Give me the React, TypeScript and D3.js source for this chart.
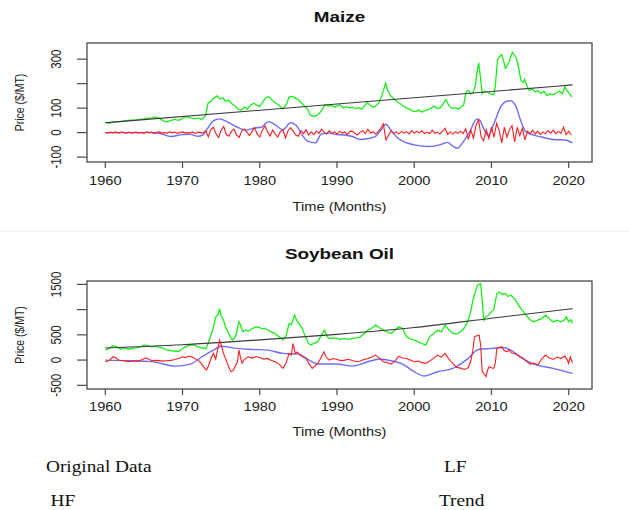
import React from 'react';
import * as d3 from 'd3';

// ---- data ----

const yearTicks = [1960, 1970, 1980, 1990, 2000, 2010, 2020];

const maizeYTicks = [-100, 0, 100, 200, 300];
const maizeYLabels = [-100, 0, 100, 300];
const soyYTicks = [-500, 0, 500, 1000, 1500];
const soyYLabels = [-500, 0, 500, 1500];

const legendLabels = ['Original Data', 'LF', 'HF', 'Trend'];

// Maize ($/MT)
const maizeOriginal: [number, number][] = [
  [1960, 42], [1960.5, 38], [1961, 44], [1962, 46], [1963, 50], [1964, 52], [1965, 56], [1966, 60],
  [1966.5, 64], [1967, 58], [1967.5, 48], [1968, 44], [1968.5, 50], [1969, 54], [1969.5, 50], [1970, 58],
  [1970.5, 66], [1971, 60], [1971.5, 56], [1972, 60], [1972.5, 54], [1973, 70], [1973.3, 120], [1973.7, 128],
  [1974, 140], [1974.5, 150], [1974.8, 138], [1975.2, 142], [1975.6, 128], [1976, 132], [1976.4, 118],
  [1976.8, 110], [1977.2, 96], [1977.6, 92], [1978, 104], [1978.4, 96], [1978.8, 112], [1979.2, 120],
  [1979.6, 112], [1980, 106], [1980.4, 126], [1980.8, 144], [1981.2, 146], [1981.6, 132], [1982, 122],
  [1982.5, 112], [1983, 96], [1983.5, 118], [1983.8, 146], [1984.2, 148], [1984.6, 142], [1985, 134],
  [1985.4, 122], [1985.8, 108], [1986.2, 96], [1986.5, 72], [1987, 66], [1987.4, 70], [1987.8, 82],
  [1988.2, 100], [1988.5, 115], [1988.9, 108], [1989.3, 112], [1989.7, 104], [1990, 108], [1990.4, 114],
  [1990.8, 102], [1991.2, 106], [1991.6, 100], [1992, 104], [1992.4, 98], [1992.8, 102], [1993.2, 96],
  [1993.6, 110], [1993.9, 124], [1994.3, 112], [1994.7, 104], [1995, 108], [1995.4, 120], [1995.8, 150],
  [1996.3, 202], [1996.6, 170], [1997, 148], [1997.4, 138], [1997.8, 126], [1998.2, 118], [1998.6, 108],
  [1999, 100], [1999.4, 96], [1999.8, 88], [2000.2, 86], [2000.6, 92], [2001, 84], [2001.4, 90],
  [2001.8, 94], [2002.2, 100], [2002.6, 108], [2003, 98], [2003.4, 102], [2003.8, 120], [2004.1, 134],
  [2004.5, 110], [2004.9, 98], [2005.3, 102], [2005.7, 96], [2006, 104], [2006.4, 112], [2006.7, 165],
  [2007, 172], [2007.3, 158], [2007.6, 162], [2007.9, 190], [2008.2, 260], [2008.35, 285], [2008.6, 220],
  [2008.8, 160], [2009.1, 170], [2009.5, 165], [2009.9, 158], [2010.3, 155], [2010.5, 190], [2010.8, 300],
  [2011.1, 312], [2011.3, 318], [2011.6, 290], [2011.8, 262], [2012.1, 275], [2012.4, 300], [2012.7, 328],
  [2012.9, 320], [2013.2, 305], [2013.5, 270], [2013.8, 215], [2014.1, 205], [2014.3, 218], [2014.6, 190],
  [2014.9, 172], [2015.3, 178], [2015.7, 166], [2016, 172], [2016.4, 160], [2016.8, 168], [2017.2, 152],
  [2017.6, 158], [2018, 154], [2018.4, 162], [2018.8, 170], [2019.2, 158], [2019.5, 188], [2019.8, 170],
  [2020.1, 160], [2020.4, 145],
];

const maizeLF: [number, number][] = [
  [1960, 0], [1963, 0], [1966, 0], [1967, -3], [1968.5, -16], [1970, -8], [1971, -7], [1972, -15],
  [1972.6, -10], [1973.2, 15], [1974, 48], [1974.8, 56], [1975.8, 44], [1977, 24], [1978.2, 10],
  [1979.2, 18], [1980.2, 22], [1981.1, 45], [1982, 32], [1983, 12], [1984, 40], [1984.7, 30],
  [1985.5, -10], [1986.2, -35], [1987.2, -42], [1988, -5], [1989, -2], [1990, -8], [1991, -10],
  [1992, -16], [1993, -28], [1994, -24], [1995, -15], [1995.8, 15], [1996.3, 34], [1997, 10],
  [1997.8, -20], [1998.7, -38], [2000, -50], [2002, -57], [2003.5, -48], [2004.3, -40], [2005, -55],
  [2005.6, -64], [2006.3, -40], [2007.2, 5], [2008.1, 55], [2008.5, 50], [2009, 15], [2009.6, -12],
  [2010.3, 35], [2011.2, 105], [2012, 128], [2012.5, 130], [2013.2, 105], [2013.8, 48], [2014.4, 5],
  [2015.5, -10], [2016.5, -18], [2018, -28], [2019.5, -30], [2020.5, -42],
];

// high-frequency part, one value every 4 months from Jan 1960
const maizeHFStart = 1960;
const maizeHFStep = 1 / 3;
const maizeHF = [
  0, -2, 2, -1, 3, -2, 1, 2, -3, 2, -1, 0, 2, -2, 1, -3, 3, 0, 2, -4, 1, 3, -2, 0, -3, 4, -1, 2, -3, 1,
  3, -2, 0, -1, 3, -4, 2, 0, -2,
  8, -18, 12, 22, -5, -20, 10, 25, -8, -15, 5, 14, -10, -20, 6, 15, 2, -12, 5, 20, -6,
  -18, 10, 28, 4, -14, 10, -6, -18, 4, 12, -22, 8, 20, 6, -10, -15, 8, -4, 12, -10, 3,
  -8, 6, -3, 14, 2, -6, 8, -4, 4, -6, 6, -2, 3, -8, 5, 6, -4, -10, 2, 8, -4,
  14, -2, 3, -6, 4, 18, 36, -30, -12, 8, -4, 4, -6, 5, -2, 4, -5, 8, -3, 6, -2,
  8, -4, 2, -4, 10, -3, 2, -6, 6, 18, -8, 3, -6, 4, -3, 6, -4, 16, -28, 10, -22,
  30, 52, -18, -32, 12, -24, 22, -18, 38, 8, -42, 22, -18, 12, 28, -38, 22, -12, 18, -30, 6,
  -4, 10, -6, 6, -8, 3, -5, 8, -2, 10, -4, 5, -3, 22, -8, 6, -10,
];

const maizeTrend: [number, number][] = [[1960, 40], [1990, 117], [2020.5, 195]];

// Soybean oil ($/MT)
const soyOriginal: [number, number][] = [
  [1960, 200], [1960.5, 230], [1961, 290], [1961.5, 260], [1962, 220], [1962.5, 240], [1963, 215],
  [1963.5, 230], [1964, 240], [1964.5, 260], [1965, 300], [1965.5, 280], [1966, 262], [1966.5, 270],
  [1967, 255], [1967.5, 230], [1968, 200], [1968.5, 185], [1969, 180], [1969.5, 170], [1970, 230],
  [1970.5, 270], [1971, 295], [1971.5, 300], [1972, 262], [1972.5, 240], [1973, 225], [1973.3, 330],
  [1973.6, 460], [1974, 650], [1974.3, 850], [1974.6, 900], [1974.8, 1020], [1975, 880], [1975.3, 790],
  [1975.6, 640], [1975.8, 590], [1976.2, 450], [1976.5, 395], [1976.9, 480], [1977.3, 760], [1977.5, 700],
  [1977.8, 560], [1978.2, 600], [1978.5, 570], [1979, 620], [1979.5, 660], [1979.9, 650], [1980.3, 620],
  [1980.7, 630], [1981.1, 590], [1981.5, 560], [1982, 520], [1982.5, 460], [1983, 400], [1983.4, 480],
  [1983.8, 725], [1984.1, 700], [1984.5, 890], [1984.8, 780], [1985.1, 725], [1985.5, 626], [1985.9, 470],
  [1986.3, 330], [1986.6, 300], [1987, 330], [1987.5, 360], [1988, 500], [1988.4, 593], [1988.7, 470],
  [1989, 428], [1989.5, 440], [1990, 428], [1990.5, 410], [1991, 430], [1991.5, 410], [1992, 428],
  [1992.5, 440], [1993, 461], [1993.5, 520], [1994, 593], [1994.5, 630], [1995, 692], [1995.5, 640],
  [1996, 593], [1996.5, 560], [1997, 527], [1997.5, 590], [1998, 659], [1998.5, 626], [1999, 461],
  [1999.5, 420], [2000, 395], [2000.5, 360], [2001, 329], [2001.5, 296], [2002, 461], [2002.5, 520],
  [2003, 593], [2003.5, 560], [2004, 692], [2004.5, 600], [2005, 527], [2005.5, 520], [2006, 560],
  [2006.5, 640], [2007, 790], [2007.3, 950], [2007.6, 1186], [2007.9, 1350], [2008.2, 1482], [2008.6, 1515],
  [2008.8, 1200], [2009, 790], [2009.3, 860], [2009.6, 889], [2010, 955], [2010.3, 1000], [2010.7, 1318],
  [2011, 1350], [2011.4, 1300], [2011.8, 1320], [2012.1, 1260], [2012.5, 1290], [2012.8, 1240],
  [2013.1, 1200], [2013.5, 1087], [2014, 980], [2014.5, 889], [2015, 800], [2015.5, 757], [2016, 790],
  [2016.5, 820], [2017, 889], [2017.5, 820], [2018, 757], [2018.5, 790], [2019, 757], [2019.4, 790],
  [2019.7, 856], [2020, 760], [2020.3, 800], [2020.5, 725],
];

const soyLF: [number, number][] = [
  [1960, 0], [1963, -10], [1966, -30], [1969, -119], [1971, -80], [1972.5, 66], [1974, 198], [1975, 275],
  [1977, 231], [1979, 211], [1981, 198], [1983, 132], [1985, 118], [1986.5, -13], [1987.5, -79],
  [1990, -79], [1992, -119], [1994, -33], [1995.5, 20], [1997, -13], [1998.5, -79], [2000, -231],
  [2001.3, -316], [2003, -231], [2005, -165], [2007, 33], [2008.3, 211], [2010, 231], [2011.5, 250],
  [2012.5, 198], [2014, 33], [2015.5, -79], [2018, -165], [2020.5, -264],
];

const soyHF: [number, number][] = [
  [1960, -33], [1960.5, -10], [1961, 66], [1961.4, 40], [1961.8, -5], [1962.3, -13], [1962.8, -20],
  [1963.3, -33], [1963.8, -15], [1964.3, -20], [1964.8, 10], [1965.2, 40], [1965.6, 20], [1966, -13],
  [1966.5, -5], [1967, -10], [1967.5, -20], [1968, -13], [1968.5, -5], [1969, 10], [1969.5, 30],
  [1970, 66], [1970.4, 50], [1970.8, 79], [1971.2, 60], [1971.6, 30], [1972, 0], [1972.4, -60],
  [1972.8, -150], [1973.1, -198], [1973.4, -99], [1973.7, 40], [1974, 132], [1974.3, 20], [1974.6, 250],
  [1974.8, 395], [1975.1, 250], [1975.3, 132], [1975.6, 20], [1975.8, -66], [1976.1, -180], [1976.3, -231],
  [1976.6, -200], [1976.8, -132], [1977.1, -40], [1977.3, 198], [1977.5, 60], [1977.7, -66], [1978, 10],
  [1978.5, 66], [1979, 40], [1979.5, 70], [1980, 53], [1980.5, 20], [1981, 33], [1981.5, -10], [1982, -33],
  [1982.5, -80], [1983, -165], [1983.4, -60], [1983.8, 132], [1984.1, 100], [1984.3, 329], [1984.6, 132],
  [1984.9, 160], [1985.2, 99], [1985.6, 60], [1986, 33], [1986.4, -80], [1986.8, -165], [1987.1, -120],
  [1987.5, -66], [1987.9, 40], [1988.3, 165], [1988.6, 60], [1989, 0], [1989.5, 30], [1990, 13],
  [1990.5, -10], [1991, 0], [1991.5, 15], [1992, -10], [1992.5, -33], [1993, -20], [1993.5, 10], [1994, 33],
  [1994.5, 60], [1995, 99], [1995.5, 40], [1996, -33], [1996.5, -50], [1997, -79], [1997.5, -20], [1998, 79],
  [1998.5, 40], [1999, 33], [1999.5, 0], [2000, -33], [2000.5, -20], [2001, -50], [2001.5, -66], [2002, -20],
  [2002.5, 33], [2003, 99], [2003.5, 60], [2004, 132], [2004.4, 40], [2004.8, -33], [2005.2, -100],
  [2005.5, -145], [2006, -160], [2006.5, -185], [2007, -150], [2007.3, -33], [2007.6, 200], [2007.8, 461],
  [2008.1, 480], [2008.4, 494], [2008.6, 300], [2008.8, -231], [2009.1, -280], [2009.3, -329], [2009.5, -200],
  [2009.7, -132], [2010, -150], [2010.3, -165], [2010.5, -60], [2010.7, 231], [2011, 250], [2011.3, 264],
  [2011.6, 200], [2012, 165], [2012.3, 200], [2012.6, 140], [2013, 132], [2013.4, 100], [2013.7, 60],
  [2014, 53], [2014.5, -20], [2015, -79], [2015.5, -60], [2016, -99], [2016.5, 20], [2017, 99], [2017.5, 40],
  [2018, 13], [2018.5, 60], [2019, 30], [2019.5, 79], [2019.8, 10], [2020, -66], [2020.2, 66], [2020.5, -52],
];

const soyTrend: [number, number][] = [
  [1960, 240], [1970, 305], [1980, 400], [1990, 510], [2000, 645], [2010, 830], [2020.5, 1020],
];

// ---- drawing ----

const SANS = '"Liberation Sans", Arial, Helvetica, sans-serif';
const SERIF = '"Liberation Serif", "Times New Roman", serif';
const GREEN = '#19ee19';
const BLUE = '#5c5cff';
const RED = '#ff1c1c';
const TREND = '#3a3a3a';
const STRETCH = 1.22; // the reference picture is widened horizontally

function SText({ x, y, sx = STRETCH, rot = 0, children, ...rest }: any) {
  const t = `translate(${x},${y}) scale(${sx},1)` + (rot ? ` rotate(${rot})` : '');
  return (
    <text transform={t} fontFamily={SANS} fill="#222" {...rest}>
      {children}
    </text>
  );
}

type Pt = [number, number];

function Panel({ title, top, bottom, yDomain, yTicks, yLabels, original, lf, hf, trend, titleY, tickLabelY, xTitleY }: {
  title: string; top: number; bottom: number; yDomain: [number, number];
  yTicks: number[]; yLabels: number[]; original: Pt[]; lf: Pt[]; hf: Pt[]; trend: Pt[];
  titleY: number; tickLabelY: number; xTitleY: number;
}) {
  const left = 87;
  const right = 592;
  const x = d3.scaleLinear().domain([1957.63, 2023.02]).range([left, right]);
  const y = d3.scaleLinear().domain(yDomain).range([bottom, top]);
  const line = d3.line<Pt>().x(d => x(d[0])).y(d => y(d[1]));
  const smooth = d3.line<Pt>().x(d => x(d[0])).y(d => y(d[1])).curve(d3.curveMonotoneX);
  const cx = (left + right) / 2;
  const cy = (top + bottom) / 2;

  return (
    <g>
      <SText x={cx} y={titleY} sx={1.35} textAnchor="middle" fontWeight="bold" fontSize={14} fill="#111">{title}</SText>

      <path d={line(original) ?? ''} fill="none" stroke={GREEN} strokeWidth={1.3} />
      <path d={smooth(trend) ?? ''} fill="none" stroke={TREND} strokeWidth={1.1} />
      <path d={smooth(lf) ?? ''} fill="none" stroke={BLUE} strokeWidth={1.4} strokeOpacity={0.9} />
      <path d={line(hf) ?? ''} fill="none" stroke={RED} strokeWidth={1.1} />

      <rect x={left} y={top} width={right - left} height={bottom - top} fill="none" stroke="#4a4a4a" strokeWidth={1.3} />

      {yearTicks.map(t => (
        <g key={t}>
          <line x1={x(t)} x2={x(t)} y1={bottom} y2={bottom + 6} stroke="#4a4a4a" strokeWidth={1.2} />
          <SText x={x(t)} y={tickLabelY} textAnchor="middle" fontSize={12}>{t}</SText>
        </g>
      ))}
      {yTicks.map(t => (
        <line key={t} x1={left - 10} x2={left} y1={y(t)} y2={y(t)} stroke="#4a4a4a" strokeWidth={1.2} />
      ))}
      {yLabels.map(t => (
        <SText key={t} x={56} y={y(t)} rot={-90} textAnchor="middle" fontSize={11.5} dy="0.35em">{t}</SText>
      ))}

      <SText x={cx} y={xTitleY} textAnchor="middle" fontSize={12}>Time (Months)</SText>
      <SText x={20} y={cy} rot={-90} textAnchor="middle" fontSize={10.5} dy="0.35em">Price ($/MT)</SText>
    </g>
  );
}

export default function App() {
  const maizeHFPts: Pt[] = maizeHF.map((v, i) => [maizeHFStart + i * maizeHFStep, v]);

  return (
    <svg width={629} height={510} style={{ position: 'absolute', left: 0, top: 0, background: '#fff' }}>
      <rect width={629} height={510} fill="#fff" />
      <Panel
        title="Maize" top={43} bottom={162} yDomain={[-120, 366]}
        yTicks={maizeYTicks} yLabels={maizeYLabels}
        original={maizeOriginal} lf={maizeLF} hf={maizeHFPts} trend={maizeTrend}
        titleY={22} tickLabelY={185} xTitleY={211}
      />
      <line x1={0} x2={629} y1={231} y2={231} stroke="#eee" strokeWidth={1} />
      <Panel
        title="Soybean Oil" top={281} bottom={389} yDomain={[-573, 1567]}
        yTicks={soyYTicks} yLabels={soyYLabels}
        original={soyOriginal} lf={soyLF} hf={soyHF} trend={soyTrend}
        titleY={259} tickLabelY={411} xTitleY={436}
      />

      <g fontFamily={SERIF} fontSize={16.5} fill="#111">
        <text transform="translate(46,471.5) scale(1.17,1)">{legendLabels[0]}</text>
        <text transform="translate(444,471.5) scale(1.17,1)">{legendLabels[1]}</text>
        <text transform="translate(50.5,506) scale(1.17,1)">{legendLabels[2]}</text>
        <text transform="translate(439,505.5) scale(1.17,1)">{legendLabels[3]}</text>
      </g>
    </svg>
  );
}
